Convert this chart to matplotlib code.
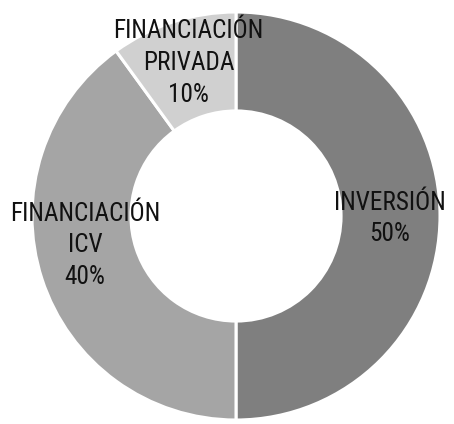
import matplotlib
matplotlib.use("Agg")
import matplotlib.pyplot as plt
import numpy as np
from matplotlib import font_manager

categories = ["INVERSIÓN", "FINANCIACIÓN\nICV", "FINANCIACIÓN\nPRIVADA"]
values = [50, 40, 10]
colors = ["#7f7f7f", "#a5a5a5", "#d0d0d0"]

names = {f.name for f in font_manager.fontManager.ttflist}
fam = "DejaVu Sans"
for cand in ["Roboto Condensed", "Arial Narrow", "Liberation Sans Narrow", "Archivo Narrow"]:
    if cand in names:
        fam = cand
        break

fig = plt.figure(figsize=(4.54, 4.24), dpi=100)
ax = fig.add_axes([0, 0, 1, 1])
R = 204.0
cx, cy = 236.0, 216.0
wedges, _ = ax.pie(values, colors=colors, startangle=90, counterclock=False,
                   radius=1.0, wedgeprops=dict(width=0.485, edgecolor="white", linewidth=2.2))
ax.set_xlim(-cx / R, (454 - cx) / R)
ax.set_ylim(-(424 - cy) / R, cy / R)
ax.set_aspect("auto")

# label placement: (radius, angle shift in degrees) relative to wedge mid-angle
label_place = [(0.755, -1.0), (0.754, -7.0), (0.785, -0.8)]
for w, cat, v, (r, dang) in zip(wedges, categories, values, label_place):
    ang = np.deg2rad((w.theta1 + w.theta2) / 2 + dang)
    ax.text(r * np.cos(ang), r * np.sin(ang), f"{cat}\n{v}%", ha="center", va="center",
            fontsize=18.2, family=fam, color="#111111", linespacing=1.4)

fig.savefig("out.png", dpi=100)
